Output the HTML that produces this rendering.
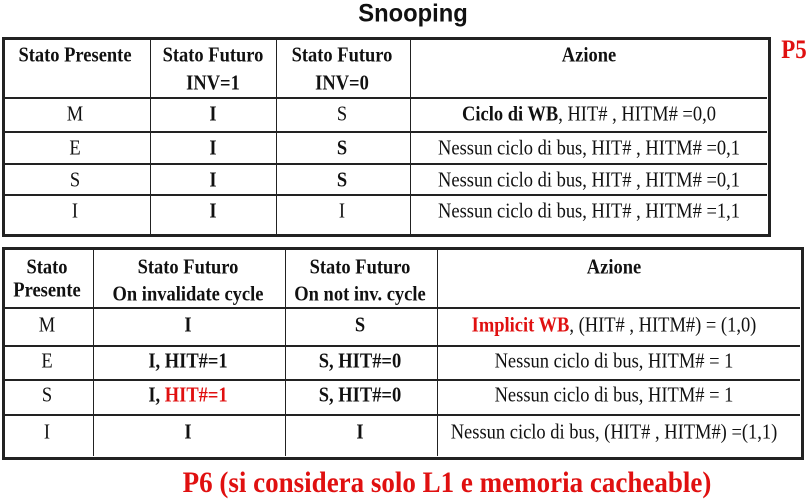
<!DOCTYPE html>
<html><head><meta charset="utf-8"><style>
body{margin:0;width:809px;height:499px;background:#fff;position:relative;overflow:hidden;font-family:"Liberation Serif",serif;color:#111}
.t{position:absolute;white-space:nowrap;transform:translate(-50%,-50%) scaleX(.88);font-size:21px;line-height:1}
.b{font-weight:bold}
.r{color:#e01010}
.h{position:absolute;background:#222}
</style></head><body>
<div class="t b" style="left:413px;top:14px;font-family:'Liberation Sans',sans-serif;font-size:25px;transform:translate(-50%,-50%) scaleX(.95)">Snooping</div>
<div class="t b r" style="left:794px;top:50px;font-size:26px">P5</div>

<div style="position:absolute;left:2px;top:37px;width:763px;height:194px;border:3px solid #222"></div>
<div class="h" style="left:150px;top:39px;width:1px;height:195px"></div>
<div class="h" style="left:276px;top:39px;width:1px;height:195px"></div>
<div class="h" style="left:410px;top:39px;width:1px;height:195px"></div>
<div class="h" style="left:4px;top:97px;width:763px;height:2px"></div>
<div class="h" style="left:4px;top:131px;width:763px;height:2px"></div>
<div class="h" style="left:4px;top:163px;width:763px;height:2px"></div>
<div class="h" style="left:4px;top:194px;width:763px;height:2px"></div>

<div class="t b" style="left:75px;top:55px">Stato Presente</div>
<div class="t b" style="left:213px;top:55px">Stato Futuro</div>
<div class="t b" style="left:213px;top:83px">INV=1</div>
<div class="t b" style="left:342px;top:55px">Stato Futuro</div>
<div class="t b" style="left:342px;top:83px">INV=0</div>
<div class="t b" style="left:589px;top:55px">Azione</div>

<div class="t" style="left:75px;top:114px">M</div><div class="t b" style="left:213px;top:114px">I</div><div class="t" style="left:342px;top:114px">S</div>
<div class="t" style="left:589px;top:114px"><b>Ciclo di WB</b>, HIT# , HITM# =0,0</div>
<div class="t" style="left:75px;top:148px">E</div><div class="t b" style="left:213px;top:148px">I</div><div class="t b" style="left:342px;top:148px">S</div>
<div class="t" style="left:589px;top:148px">Nessun ciclo di bus, HIT# , HITM# =0,1</div>
<div class="t" style="left:75px;top:180px">S</div><div class="t b" style="left:213px;top:180px">I</div><div class="t b" style="left:342px;top:180px">S</div>
<div class="t" style="left:589px;top:180px">Nessun ciclo di bus, HIT# , HITM# =0,1</div>
<div class="t" style="left:75px;top:211px">I</div><div class="t b" style="left:213px;top:211px">I</div><div class="t" style="left:342px;top:211px">I</div>
<div class="t" style="left:589px;top:211px">Nessun ciclo di bus, HIT# , HITM# =1,1</div>

<div style="position:absolute;left:2px;top:247px;width:796px;height:207px;border:3px solid #222"></div>
<div class="h" style="left:93px;top:249px;width:1px;height:207px"></div>
<div class="h" style="left:285px;top:249px;width:1px;height:207px"></div>
<div class="h" style="left:437px;top:249px;width:1px;height:207px"></div>
<div class="h" style="left:4px;top:307px;width:796px;height:2px"></div>
<div class="h" style="left:4px;top:345px;width:796px;height:2px"></div>
<div class="h" style="left:4px;top:379px;width:796px;height:2px"></div>
<div class="h" style="left:4px;top:414px;width:796px;height:2px"></div>

<div class="t b" style="left:47px;top:267px">Stato</div>
<div class="t b" style="left:47px;top:290px">Presente</div>
<div class="t b" style="left:188px;top:267px">Stato Futuro</div>
<div class="t b" style="left:188px;top:294px">On invalidate cycle</div>
<div class="t b" style="left:360px;top:267px">Stato Futuro</div>
<div class="t b" style="left:360px;top:294px">On not inv. cycle</div>
<div class="t b" style="left:614px;top:267px">Azione</div>

<div class="t" style="left:47px;top:325px">M</div><div class="t b" style="left:188px;top:325px">I</div><div class="t b" style="left:360px;top:325px">S</div>
<div class="t" style="left:614px;top:325px"><b class="r">Implicit WB</b>, (HIT# , HITM#) = (1,0)</div>
<div class="t" style="left:47px;top:361px">E</div><div class="t b" style="left:188px;top:361px">I, HIT#=1</div><div class="t b" style="left:360px;top:361px">S, HIT#=0</div>
<div class="t" style="left:614px;top:361px">Nessun ciclo di bus, HITM# = 1</div>
<div class="t" style="left:47px;top:395px">S</div><div class="t b" style="left:188px;top:395px">I, <span class="r">HIT#=1</span></div><div class="t b" style="left:360px;top:395px">S, HIT#=0</div>
<div class="t" style="left:614px;top:395px">Nessun ciclo di bus, HITM# = 1</div>
<div class="t" style="left:47px;top:432px">I</div><div class="t b" style="left:188px;top:432px">I</div><div class="t b" style="left:360px;top:432px">I</div>
<div class="t" style="left:614px;top:432px">Nessun ciclo di bus, (HIT# , HITM#) =(1,1)</div>

<div class="t b r" style="left:447px;top:483px;font-size:30px;transform:translate(-50%,-50%) scaleX(.9)">P6 (si considera solo L1 e memoria cacheable)</div>
</body></html>
